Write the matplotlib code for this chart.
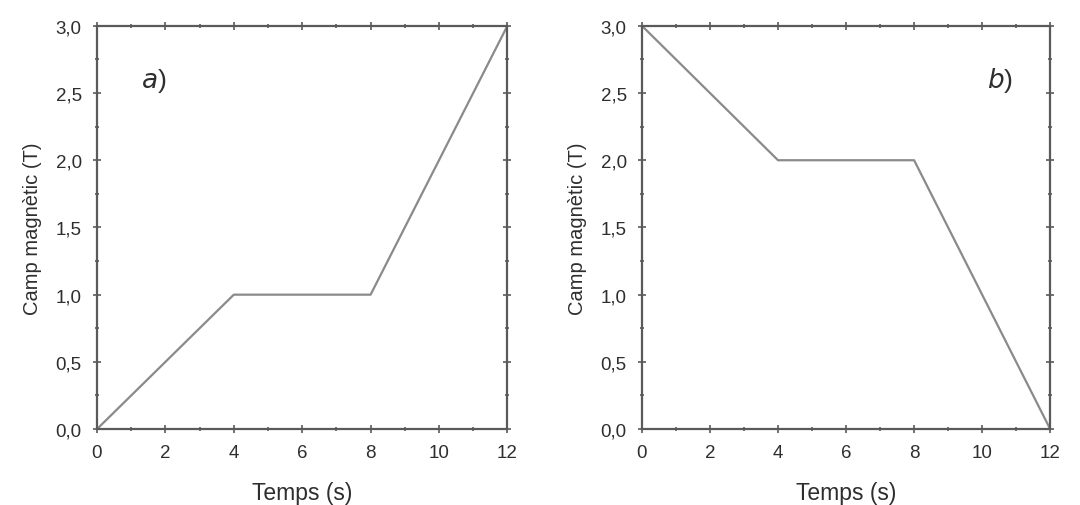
import matplotlib
matplotlib.use('Agg')
import matplotlib.pyplot as plt
from matplotlib.ticker import MultipleLocator, FuncFormatter

# dades
temps = [0, 4, 8, 12]
camp_a = [0, 1, 1, 3]
camp_b = [3, 2, 2, 0]
x_ticks = [0, 2, 4, 6, 8, 10, 12]
y_ticks = [0.0, 0.5, 1.0, 1.5, 2.0, 2.5, 3.0]

plt.rcParams['font.family'] = ['Liberation Sans', 'DejaVu Sans']

edge = '#5a5a5a'
txt = '#2e2e2e'
line_c = '#8a8a8a'


def style(ax):
    ax.set_xlim(0, 12)
    ax.set_ylim(0, 3)
    ax.set_xticks(x_ticks)
    ax.set_yticks(y_ticks)
    ax.xaxis.set_minor_locator(MultipleLocator(1))
    ax.yaxis.set_minor_locator(MultipleLocator(0.25))
    ax.yaxis.set_major_formatter(FuncFormatter(lambda v, p: f'{v:.1f}'.replace('.', ',')))
    ax.tick_params(which='both', direction='inout', top=True, right=True,
                   color=edge, labelcolor=txt, labelsize=13.5, width=1.2)
    ax.tick_params(which='major', length=6)
    ax.tick_params(which='minor', length=3.5)
    ax.tick_params(axis='x', pad=8)
    ax.tick_params(axis='y', pad=8)
    for s in ax.spines.values():
        s.set_color(edge)
        s.set_linewidth(1.6)
    ax.set_xlabel('Temps (s)', fontsize=16.5, color=txt, labelpad=14)
    ax.set_ylabel('Camp magnètic (T)', fontsize=14.5, color=txt, labelpad=10)


fig = plt.figure(figsize=(10.8, 5.06), dpi=100)
ax1 = fig.add_axes([0.0898, 0.150, 0.380, 0.797])
ax2 = fig.add_axes([0.5944, 0.150, 0.378, 0.797])

ax1.plot(temps, camp_a, color=line_c, lw=1.6, clip_on=False)
ax2.plot(temps, camp_b, color=line_c, lw=1.6, clip_on=False)
style(ax1)
style(ax2)

ax1.text(1.3, 2.6, r'$\it{a}$)', fontsize=19, color=txt, va='center',
         math_fontfamily='dejavusans')
ax2.text(10.15, 2.6, r'$\it{b}$)', fontsize=19, color=txt, va='center',
         math_fontfamily='dejavusans')

fig.savefig('out.png', dpi=100, facecolor='white')
